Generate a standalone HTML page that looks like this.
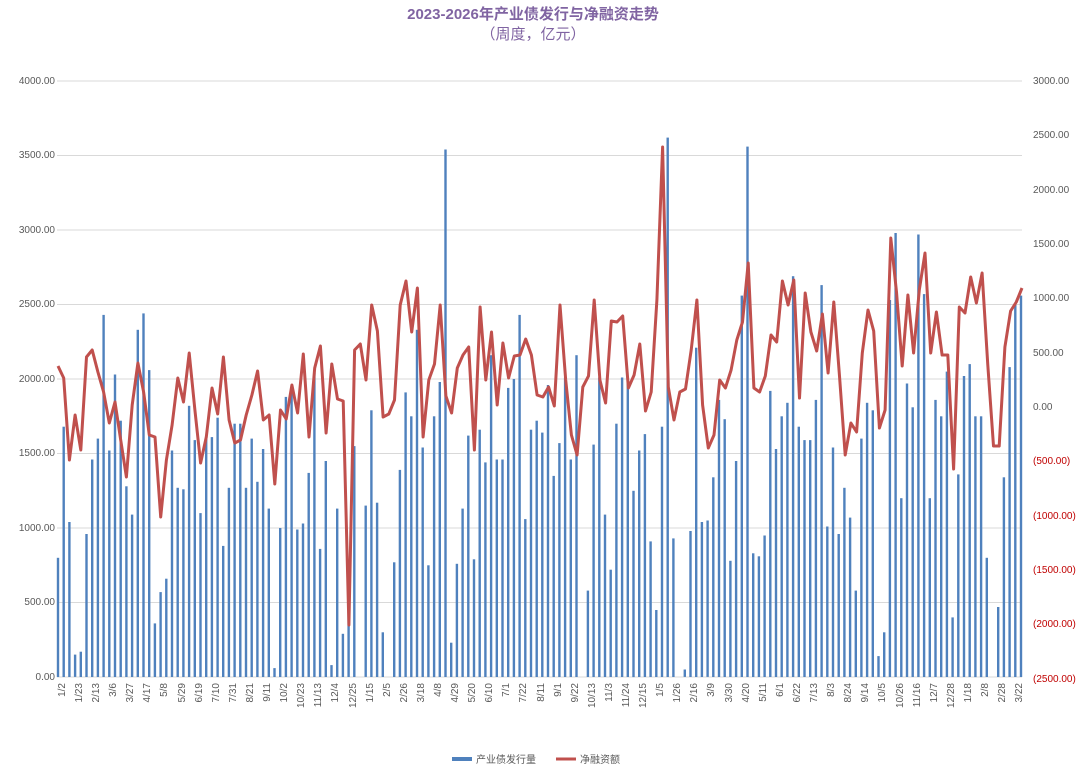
<!DOCTYPE html>
<html><head><meta charset="utf-8">
<style>
html,body{margin:0;padding:0;background:#fff;}
svg{display:block;font-family:"Liberation Sans","Noto Sans CJK SC",sans-serif;}
.l{font-size:10px;fill:#595959;}
.r{font-size:10px;fill:#595959;}
.n{font-size:10px;fill:#c00000;}
.x{font-size:10px;fill:#595959;}
</style></head>
<body>
<svg id="s" width="1080" height="776" viewBox="0 0 1080 776" xmlns="http://www.w3.org/2000/svg">
<text x="533" y="19" text-anchor="middle" font-size="15" font-weight="bold" fill="#8064a2">2023-2026年产业债发行与净融资走势</text>
<text x="533" y="39" text-anchor="middle" font-size="15" fill="#8064a2">（周度，亿元）</text>
<g id="grid" stroke="#d9d9d9" stroke-width="1"></g>
<g class="l" text-anchor="end">
<text x="55" y="84">4000.00</text><text x="55" y="158">3500.00</text><text x="55" y="233">3000.00</text><text x="55" y="307">2500.00</text><text x="55" y="382">2000.00</text><text x="55" y="456">1500.00</text><text x="55" y="531">1000.00</text><text x="55" y="605">500.00</text><text x="55" y="680">0.00</text>
</g>
<g text-anchor="start">
<text class="r" x="1033" y="84">3000.00</text><text class="r" x="1033" y="138">2500.00</text><text class="r" x="1033" y="193">2000.00</text><text class="r" x="1033" y="247">1500.00</text><text class="r" x="1033" y="301">1000.00</text><text class="r" x="1033" y="356">500.00</text><text class="r" x="1033" y="410">0.00</text>
<text class="n" x="1033" y="464">(500.00)</text><text class="n" x="1033" y="519">(1000.00)</text><text class="n" x="1033" y="573">(1500.00)</text><text class="n" x="1033" y="627">(2000.00)</text><text class="n" x="1033" y="682">(2500.00)</text>
</g>
<g id="bars" fill="#4f81bd"></g>
<polyline id="line" fill="none" stroke="#c0504d" stroke-width="3" stroke-linejoin="round"></polyline>
<g id="xl" class="x" text-anchor="end">
<text transform="translate(65,683) rotate(-90)">1/2</text><text transform="translate(82,683) rotate(-90)">1/23</text><text transform="translate(99,683) rotate(-90)">2/13</text><text transform="translate(116,683) rotate(-90)">3/6</text><text transform="translate(133,683) rotate(-90)">3/27</text><text transform="translate(150,683) rotate(-90)">4/17</text><text transform="translate(167,683) rotate(-90)">5/8</text><text transform="translate(185,683) rotate(-90)">5/29</text><text transform="translate(202,683) rotate(-90)">6/19</text><text transform="translate(219,683) rotate(-90)">7/10</text><text transform="translate(236,683) rotate(-90)">7/31</text><text transform="translate(253,683) rotate(-90)">8/21</text><text transform="translate(270,683) rotate(-90)">9/11</text><text transform="translate(287,683) rotate(-90)">10/2</text><text transform="translate(304,683) rotate(-90)">10/23</text><text transform="translate(321,683) rotate(-90)">11/13</text><text transform="translate(338,683) rotate(-90)">12/4</text><text transform="translate(356,683) rotate(-90)">12/25</text><text transform="translate(373,683) rotate(-90)">1/15</text><text transform="translate(390,683) rotate(-90)">2/5</text><text transform="translate(407,683) rotate(-90)">2/26</text><text transform="translate(424,683) rotate(-90)">3/18</text><text transform="translate(441,683) rotate(-90)">4/8</text><text transform="translate(458,683) rotate(-90)">4/29</text><text transform="translate(475,683) rotate(-90)">5/20</text><text transform="translate(492,683) rotate(-90)">6/10</text><text transform="translate(509,683) rotate(-90)">7/1</text><text transform="translate(526,683) rotate(-90)">7/22</text><text transform="translate(544,683) rotate(-90)">8/11</text><text transform="translate(561,683) rotate(-90)">9/1</text><text transform="translate(578,683) rotate(-90)">9/22</text><text transform="translate(595,683) rotate(-90)">10/13</text><text transform="translate(612,683) rotate(-90)">11/3</text><text transform="translate(629,683) rotate(-90)">11/24</text><text transform="translate(646,683) rotate(-90)">12/15</text><text transform="translate(663,683) rotate(-90)">1/5</text><text transform="translate(680,683) rotate(-90)">1/26</text><text transform="translate(697,683) rotate(-90)">2/16</text><text transform="translate(714,683) rotate(-90)">3/9</text><text transform="translate(732,683) rotate(-90)">3/30</text><text transform="translate(749,683) rotate(-90)">4/20</text><text transform="translate(766,683) rotate(-90)">5/11</text><text transform="translate(783,683) rotate(-90)">6/1</text><text transform="translate(800,683) rotate(-90)">6/22</text><text transform="translate(817,683) rotate(-90)">7/13</text><text transform="translate(834,683) rotate(-90)">8/3</text><text transform="translate(851,683) rotate(-90)">8/24</text><text transform="translate(868,683) rotate(-90)">9/14</text><text transform="translate(885,683) rotate(-90)">10/5</text><text transform="translate(903,683) rotate(-90)">10/26</text><text transform="translate(920,683) rotate(-90)">11/16</text><text transform="translate(937,683) rotate(-90)">12/7</text><text transform="translate(954,683) rotate(-90)">12/28</text><text transform="translate(971,683) rotate(-90)">1/18</text><text transform="translate(988,683) rotate(-90)">2/8</text><text transform="translate(1005,683) rotate(-90)">2/28</text><text transform="translate(1022,683) rotate(-90)">3/22</text>
</g>
<line x1="452" y1="759" x2="472" y2="759" stroke="#4f81bd" stroke-width="4"/>
<text x="476" y="763" font-size="10" fill="#595959">产业债发行量</text>
<line x1="556" y1="759" x2="576" y2="759" stroke="#c0504d" stroke-width="3"/>
<text x="580" y="763" font-size="10" fill="#595959">净融资额</text>
</svg>
<script>
var NS="http://www.w3.org/2000/svg";
var g=document.getElementById("grid");
for(var v=0;v<=4000;v+=500){var y=677-v*0.149;var l=document.createElementNS(NS,"line");l.setAttribute("x1",57);l.setAttribute("x2",1022);l.setAttribute("y1",y);l.setAttribute("y2",y);g.appendChild(l);}
var B=[800,1680,1040,150,170,960,1460,1600,2430,1520,2030,1720,1280,1090,2330,2440,2060,360,570,660,1520,1270,1260,1820,1590,1100,1610,1610,1740,880,1270,1700,1700,1270,1600,1310,1530,1130,60,1000,1880,1940,990,1030,1370,2040,860,1450,80,1130,290,640,1550,0,1150,1790,1170,300,0,770,1390,1910,1750,2330,1540,750,1750,1980,3540,230,760,1130,1620,790,1660,1440,2160,1460,1460,1940,2000,2430,1060,1660,1720,1640,1960,1350,1570,2010,1460,2160,0,580,1560,2010,1090,720,1700,2010,1970,1250,1520,1630,910,450,1680,3620,930,0,50,980,2210,1040,1050,1340,1860,1730,780,1450,2560,3560,830,810,950,1920,1530,1750,1840,2690,1680,1590,1590,1860,2630,1010,1540,960,1270,1070,580,1600,1840,1790,140,300,2530,2980,1200,1970,1810,2970,2570,1200,1860,1750,2050,400,1360,2020,2100,1750,1750,800,0,470,1340,2080,2500,2560];
var L=[366,378,460,415,450,357,350,372,392,423,402,440,477,405,363,392,435,437,517,460,425,378,402,353,410,463,437,388,414,357,420,443,440,415,395,371,420,415,484,410,419,385,413,354,437,368,346,433,364,399,401,625,350,344,380,305,331,417,414,400,305,281,332,288,437,380,364,305,396,413,368,355,347,450,307,380,332,405,343,378,356,355,339,355,395,397,387,406,305,380,435,455,387,376,300,380,403,321,322,316,388,375,344,411,392,300,147,387,420,392,389,350,300,405,448,435,380,388,370,340,322,263,388,392,376,335,342,281,305,280,398,293,332,351,314,373,302,376,455,423,432,353,310,331,428,410,238,292,366,295,353,290,253,353,312,355,355,469,307,313,277,303,273,365,446,446,347,311,302,288];
var bg=document.getElementById("bars"),n=B.length,step=(1021-58)/(n-1);
for(var i=0;i<n;i++){if(B[i]<=0)continue;var h=B[i]*0.149;var r=document.createElementNS(NS,"rect");r.setAttribute("x",(58+i*step-1.2).toFixed(1));r.setAttribute("y",(677-h).toFixed(1));r.setAttribute("width",2.4);r.setAttribute("height",h.toFixed(1));bg.appendChild(r);}
var m=L.length,s2=(1022-58)/(m-1),pts=[];
for(var j=0;j<m;j++)pts.push((58+j*s2).toFixed(1)+","+L[j]);
document.getElementById("line").setAttribute("points",pts.join(" "));
</script>
</body></html>
